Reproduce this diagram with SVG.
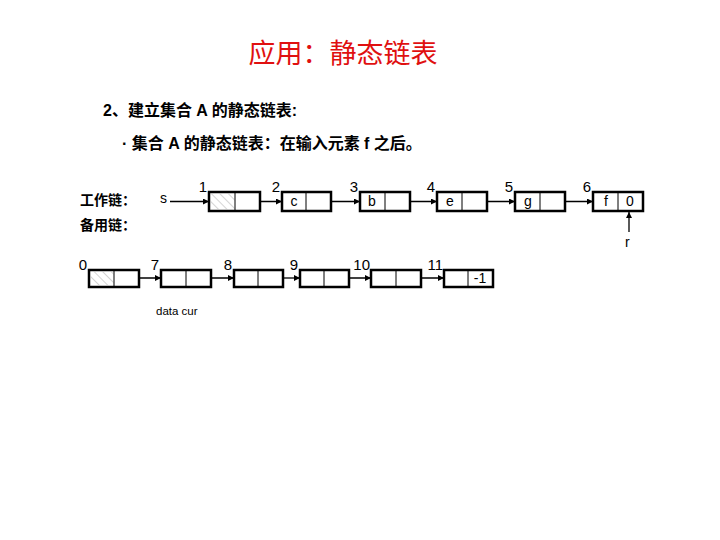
<svg xmlns="http://www.w3.org/2000/svg" width="720" height="540" viewBox="0 0 720 540">
<style>
.box{fill:#fff;stroke:#000;stroke-width:2.5}
.div{stroke:#000;stroke-width:1}
.ptr{stroke:#000;stroke-width:1.3;fill:none;marker-end:url(#ah)}
.lbl{font-family:"Liberation Sans",Arial,sans-serif;font-size:15px;fill:#000;text-anchor:end}
.val{font-family:"Liberation Sans",Arial,sans-serif;font-size:14px;fill:#000;text-anchor:middle}
.cn{font-family:"Liberation Sans","Noto Sans CJK SC",sans-serif;font-weight:bold;fill:#000}
</style>
<defs>
<marker id="ah" viewBox="0 0 10 10" refX="10" refY="5" markerWidth="6" markerHeight="6" markerUnits="userSpaceOnUse" orient="auto">
<path d="M0,0 L10,5 L0,10 z" fill="#000"/>
</marker>
<pattern id="hatch" width="6" height="6" patternUnits="userSpaceOnUse" patternTransform="rotate(-45)">
<line x1="0" y1="0" x2="0" y2="6" stroke="#aaa" stroke-width="1"/>
</pattern>
</defs>
<rect width="720" height="540" fill="#fff"/>
<text x="343" y="63" text-anchor="middle" font-family="'Noto Sans CJK SC',sans-serif" font-size="27" fill="#e01010">应用：静态链表</text>
<text class="cn" x="103" y="116" font-size="16">2、建立集合 A 的静态链表:</text>
<text class="cn" x="122" y="149" font-size="16">· 集合 A 的静态链表：在输入元素 f 之后。</text>
<text class="cn" x="80" y="205" font-size="14">工作链：</text>
<text class="cn" x="80" y="230" font-size="14">备用链：</text>

<g id="connectors">
<line class="ptr" x1="170" y1="201.5" x2="209" y2="201.5"/>
<line class="ptr" x1="248" y1="201.5" x2="282" y2="201.5"/>
<line class="ptr" x1="321" y1="201.5" x2="360" y2="201.5"/>
<line class="ptr" x1="399" y1="201.5" x2="437" y2="201.5"/>
<line class="ptr" x1="476" y1="201.5" x2="515" y2="201.5"/>
<line class="ptr" x1="556" y1="201.5" x2="593" y2="201.5"/>
<line class="ptr" x1="629" y1="232" x2="629" y2="212"/>
<line class="ptr" x1="127" y1="278" x2="161" y2="278"/>
<line class="ptr" x1="199" y1="278" x2="234" y2="278"/>
<line class="ptr" x1="271" y1="278" x2="300" y2="278"/>
<line class="ptr" x1="338" y1="278" x2="371" y2="278"/>
<line class="ptr" x1="409" y1="278" x2="444" y2="278"/>
</g>

<text x="160" y="203" font-family="'Liberation Sans',Arial,sans-serif" font-size="14">s</text>
<text x="625" y="247" font-family="'Liberation Sans',Arial,sans-serif" font-size="14">r</text>

<g id="n1"><rect class="box" x="209" y="192" width="51" height="19"/><rect x="210.5" y="193.5" width="24" height="16" fill="url(#hatch)"/><line class="div" x1="235" y1="192" x2="235" y2="211"/><text class="lbl" x="207" y="192">1</text></g>
<g id="n2"><rect class="box" x="282" y="192" width="49" height="19"/><line class="div" x1="306" y1="192" x2="306" y2="211"/><text class="lbl" x="280" y="192">2</text><text class="val" x="294" y="206">c</text></g>
<g id="n3"><rect class="box" x="360" y="192" width="50" height="19"/><line class="div" x1="385" y1="192" x2="385" y2="211"/><text class="lbl" x="358" y="192">3</text><text class="val" x="372" y="206">b</text></g>
<g id="n4"><rect class="box" x="437" y="192" width="50" height="19"/><line class="div" x1="462" y1="192" x2="462" y2="211"/><text class="lbl" x="435" y="192">4</text><text class="val" x="450" y="206">e</text></g>
<g id="n5"><rect class="box" x="515" y="192" width="50" height="19"/><line class="div" x1="540" y1="192" x2="540" y2="211"/><text class="lbl" x="513" y="192">5</text><text class="val" x="528" y="206">g</text></g>
<g id="n6"><rect class="box" x="593" y="192" width="50" height="19"/><line class="div" x1="618" y1="192" x2="618" y2="211"/><text class="lbl" x="591" y="192">6</text><text class="val" x="606" y="206">f</text><text class="val" x="630" y="206">0</text></g>

<g id="n0"><rect class="box" x="89" y="270" width="50" height="17"/><rect x="90.5" y="271.5" width="23" height="14" fill="url(#hatch)"/><line class="div" x1="114" y1="270" x2="114" y2="287"/><text class="lbl" x="87" y="270">0</text></g>
<g id="n7"><rect class="box" x="161" y="270" width="50" height="17"/><line class="div" x1="186" y1="270" x2="186" y2="287"/><text class="lbl" x="159" y="270">7</text></g>
<g id="n8"><rect class="box" x="234" y="270" width="49" height="17"/><line class="div" x1="258" y1="270" x2="258" y2="287"/><text class="lbl" x="232" y="270">8</text></g>
<g id="n9"><rect class="box" x="300" y="270" width="49" height="17"/><line class="div" x1="324" y1="270" x2="324" y2="287"/><text class="lbl" x="298" y="270">9</text></g>
<g id="n10"><rect class="box" x="371" y="270" width="50" height="17"/><line class="div" x1="396" y1="270" x2="396" y2="287"/><text class="lbl" x="370" y="270">10</text></g>
<g id="n11"><rect class="box" x="444" y="270" width="49" height="17"/><line class="div" x1="468" y1="270" x2="468" y2="287"/><text class="lbl" x="443" y="270">11</text><text class="val" x="480" y="283">-1</text></g>

<text x="156" y="315" font-family="'Liberation Sans',Arial,sans-serif" font-size="11.5">data cur</text>
</svg>
